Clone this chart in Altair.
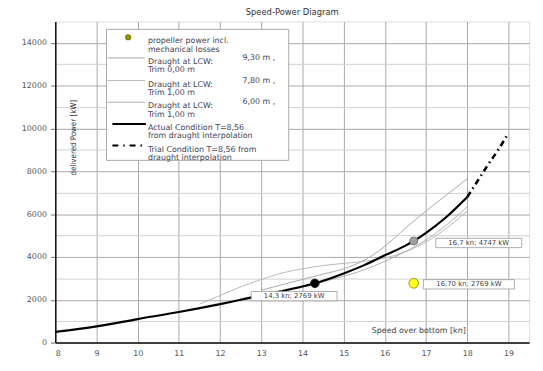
import altair as alt
import pandas as pd

# ---------------- data ----------------
actual_speed = [8, 9, 10, 11, 12, 12.5, 13, 13.5, 14, 14.3, 15, 15.5, 16, 16.5, 16.7, 17, 17.5, 18]
actual_power = [500, 760, 1100, 1430, 1800, 2000, 2200, 2400, 2620, 2769, 3230, 3620, 4080, 4530, 4747, 5130, 5880, 6800]

trial_speed = [18, 18.25, 18.5, 18.75, 19]
trial_power = [6800, 7550, 8300, 9000, 9800]

d930_speed = [13, 13.5, 14, 14.5, 15, 15.5, 16, 16.5, 17, 17.5, 18]
d930_power = [2450, 2700, 2950, 3200, 3450, 3850, 4500, 5350, 6150, 6900, 7650]

d780_speed = [11.5, 12, 12.5, 13, 13.5, 14, 14.5, 15, 15.5, 16, 16.5, 17, 17.5, 18]
d780_power = [1800, 2200, 2600, 2950, 3250, 3450, 3600, 3700, 3800, 3950, 4250, 4700, 5350, 6150]

d600_speed = [12.5, 13, 13.5, 14, 14.5, 15, 15.5, 16, 16.5, 17, 17.5, 18]
d600_power = [2050, 2250, 2450, 2650, 2850, 3100, 3400, 3800, 4250, 4800, 5500, 6350]

point_speed = [14.3, 16.7, 16.70]
point_power = [2769, 4747, 2769]
point_labels = ["14,3 kn; 2769 kW", "16,7 kn; 4747 kW", "16,70 kn; 2769 kW"]

legend_texts = [
    "propeller power incl.\nmechanical losses",
    "Draught at LCW:\nTrim 0,00 m",
    "Draught at LCW:\nTrim 1,00 m",
    "Draught at LCW:\nTrim 1,00 m",
    "Actual Condition T=8,56\nfrom draught interpolation",
    "Trial Condition T=8,56 from\ndraught interpolation",
]
legend_values = ["", "9,30 m ,", "7,80 m ,", "6,00 m ,", "", ""]

x_ticks = [8 + 0.5 * i for i in range(24)]
y_ticks = [1000 * i for i in range(15)]

# ---------------- styling ----------------
FONT = "DejaVu Sans"
NARROW = "Liberation Sans Narrow, DejaVu Sans Condensed, Roboto Condensed, sans-serif"
TXT = "#444455"

xs = alt.Scale(domain=[8, 19.5], nice=False, zero=False)
ys = alt.Scale(domain=[0, 15000], nice=False)

x_axis = alt.Axis(
    values=x_ticks,
    format="d",
    labelExpr="datum.value % 1 === 0 ? datum.label : ''",
    grid=True,
    gridColor={"condition": {"test": "datum.value % 1 === 0", "value": "#a8a8a8"}, "value": "#cfcfcf"},
    gridDash={"condition": {"test": "datum.value % 1 === 0", "value": []}, "value": [3, 2]},
    gridWidth=1,
    tickSize=0,
    labelPadding=7,
    labelFont=FONT,
    labelFontSize=8,
    labelColor="#555",
    domainColor="#111",
    domainWidth=1.5,
    title=None,
)
y_axis = alt.Axis(
    values=y_ticks,
    labelExpr="datum.value % 2000 === 0 ? datum.label : ''",
    format="d",
    grid=True,
    gridColor={"condition": {"test": "datum.value % 2000 === 0", "value": "#a8a8a8"}, "value": "#d0d0d0"},
    gridWidth=1,
    tickSize=5,
    tickColor="#777",
    tickOpacity={"condition": {"test": "datum.value % 2000 === 0", "value": 1}, "value": 0},
    labelPadding=4,
    labelFont=FONT,
    labelFontSize=8,
    labelColor="#555",
    domainColor="#111",
    domainWidth=1.5,
    title=None,
)

X = alt.X("speed:Q", scale=xs, axis=x_axis)
Y = alt.Y("power:Q", scale=ys, axis=y_axis)


def df(s, p):
    return pd.DataFrame({"speed": s, "power": p})


layers = []

# draught curves
for s, p, col in [(d930_speed, d930_power, "#a0a0a0"),
                  (d780_speed, d780_power, "#b0b0b0"),
                  (d600_speed, d600_power, "#a8a8a8")]:
    layers.append(alt.Chart(df(s, p)).mark_line(color=col, strokeWidth=0.9, interpolate="monotone").encode(x=X, y=Y))

# actual condition
layers.append(alt.Chart(df(actual_speed, actual_power)).mark_line(
    color="#000", strokeWidth=2.2, interpolate="monotone").encode(x=X, y=Y))
# trial condition
layers.append(alt.Chart(df(trial_speed, trial_power)).mark_line(
    color="#000", strokeWidth=2.6, strokeDash=[6, 4, 1.5, 4], interpolate="monotone").encode(x=X, y=Y))

# points with their labels
pts = pd.DataFrame({"speed": point_speed, "power": point_power, "label": point_labels})
pt_styles = [
    dict(fill="#000", stroke="#222", size=75, dx=-21, dy=13),
    dict(fill="#a0a0a0", stroke="#777", size=65, dx=66, dy=2),
    dict(fill="#ffff22", stroke="#999900", size=95, dx=56, dy=1),
]
for i, st in enumerate(pt_styles):
    row = pts.iloc[[i]].copy()
    w = len(row["label"].iloc[0]) * 5.2 + 4
    h = 9.5
    row["shape"] = f"M-1,{-h / w:.4f}L1,{-h / w:.4f}L1,{h / w:.4f}L-1,{h / w:.4f}Z"
    row["bsz"] = w * w
    base = alt.Chart(row)
    layers.append(base.mark_point(filled=True, fill=st["fill"], stroke=st["stroke"], strokeWidth=1,
                                  opacity=1, size=st["size"]).encode(x=X, y=Y))
    layers.append(base.mark_point(filled=True, fill="white", stroke="#999", strokeWidth=0.8, opacity=1,
                                  xOffset=st["dx"], yOffset=st["dy"]).encode(
        x=X, y=Y, shape=alt.Shape("shape:N", scale=None), size=alt.Size("bsz:Q", scale=None)))
    layers.append(base.mark_text(font=FONT, fontSize=7, color="#444", align="center", baseline="middle",
                                 dx=st["dx"], dy=st["dy"]).encode(x=X, y=Y, text="label:N"))

one = pd.DataFrame({"a": [0]})

# legend box (pixel positions relative to the plot area)
layers.append(alt.Chart(one).mark_rect(fill="white", stroke="#aaa", strokeWidth=1).encode(
    x=alt.value(52), x2=alt.value(237), y=alt.value(8), y2=alt.value(141)))
row_y = [20, 41, 64, 86, 108, 130]
for i, (t, v) in enumerate(zip(legend_texts, legend_values)):
    yy = row_y[i]
    layers.append(alt.Chart(one).mark_text(font=FONT, fontSize=8, color=TXT, align="left",
                                           baseline="middle", lineBreak="\n", lineHeight=8.5).encode(
        x=alt.value(94), y=alt.value(yy), text=alt.value(t)))
    if v:
        layers.append(alt.Chart(one).mark_text(font=FONT, fontSize=8, color=TXT, align="left",
                                               baseline="middle").encode(
            x=alt.value(190), y=alt.value(yy - 4), text=alt.value(v)))
# legend symbols
layers.append(alt.Chart(one).mark_point(filled=True, fill="#b0b000", stroke="#808000", size=18, opacity=1).encode(
    x=alt.value(74), y=alt.value(16)))
for yy, col in [(37, "#a0a0a0"), (60, "#b0b0b0"), (82, "#a8a8a8")]:
    layers.append(alt.Chart(one).mark_rule(color=col, strokeWidth=0.9).encode(
        x=alt.value(53), x2=alt.value(91), y=alt.value(yy)))
layers.append(alt.Chart(one).mark_rule(color="#000", strokeWidth=2).encode(
    x=alt.value(58), x2=alt.value(92), y=alt.value(104)))
layers.append(alt.Chart(one).mark_rule(color="#000", strokeWidth=2, strokeDash=[6, 5, 1.5, 5]).encode(
    x=alt.value(58), x2=alt.value(92), y=alt.value(126)))

# axis titles drawn inside the plot
layers.append(alt.Chart(one).mark_text(font=NARROW, fontSize=8, color="#333", angle=270,
                                       align="center", baseline="middle").encode(
    x=alt.value(19), y=alt.value(118), text=alt.value("delivered Power [kW]")))
layers.append(alt.Chart(one).mark_text(font=FONT, fontSize=8, color="#444", align="center",
                                       baseline="middle").encode(
    x=alt.value(369), y=alt.value(314), text=alt.value("Speed over bottom [kn]")))

chart = alt.layer(*layers).properties(
    width=481,
    height=326,
    title=alt.TitleParams("Speed-Power Diagram", font=FONT, fontSize=8.5, fontWeight="normal",
                          color="#333", offset=5, anchor="middle"),
    autosize=alt.AutoSizeParams(type="none"),
    padding={"left": 48, "top": 11, "right": 6, "bottom": 18},
).configure_view(stroke="#777", strokeWidth=1.2).configure(background="white")

chart.save("out.html", embed_options={"renderer": "svg", "actions": False})
